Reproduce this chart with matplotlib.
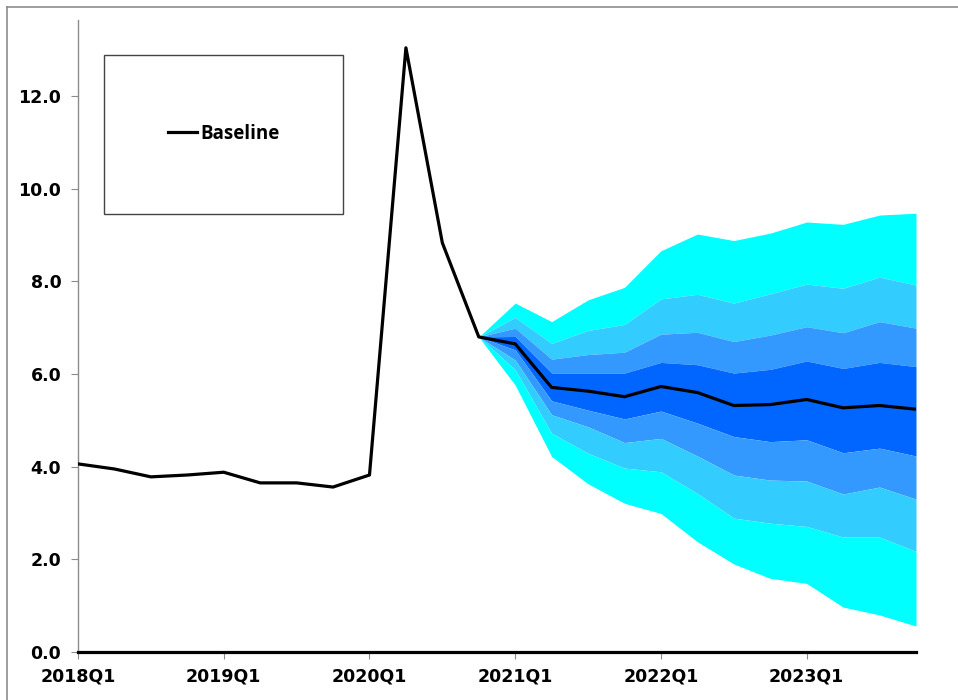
"""
Fan chart: baseline projection with uncertainty bands
"""
import numpy as np
import matplotlib.pyplot as plt
from matplotlib.patches import Rectangle
from matplotlib.lines import Line2D

# Quarters 2018Q1 .. 2023Q4
quarters = [f"{y}Q{q}" for y in range(2018, 2024) for q in range(1, 5)]
tick_labels = ["2018Q1", "2019Q1", "2020Q1", "2021Q1", "2022Q1", "2023Q1"]

# Baseline path
baseline = [4.06, 3.95, 3.78, 3.82, 3.88, 3.65, 3.65, 3.56, 3.82, 13.04, 8.83, 6.80,
            6.65, 5.71, 5.63, 5.51, 5.73, 5.60, 5.32, 5.34, 5.45, 5.27, 5.32, 5.24]

# Fan band edges, from 2020Q4 to 2023Q4 (top to bottom)
fan_start = "2020Q4"
cyan_top = [6.80, 7.53, 7.13, 7.60, 7.87, 8.66, 9.02, 8.88, 9.04, 9.28, 9.23, 9.43, 9.47]
light_top = [6.80, 7.22, 6.66, 6.94, 7.07, 7.62, 7.72, 7.53, 7.73, 7.94, 7.85, 8.09, 7.92]
mid_top = [6.80, 6.99, 6.32, 6.42, 6.47, 6.86, 6.90, 6.70, 6.84, 7.02, 6.89, 7.13, 6.99]
dark_top = [6.80, 6.81, 6.02, 6.02, 6.02, 6.25, 6.20, 6.02, 6.10, 6.28, 6.12, 6.25, 6.16]
dark_bot = [6.80, 6.52, 5.42, 5.22, 5.03, 5.20, 4.94, 4.65, 4.54, 4.58, 4.30, 4.40, 4.23]
mid_bot = [6.80, 6.30, 5.12, 4.86, 4.52, 4.61, 4.23, 3.82, 3.71, 3.69, 3.41, 3.56, 3.30]
light_bot = [6.80, 6.09, 4.72, 4.29, 3.97, 3.89, 3.42, 2.89, 2.78, 2.71, 2.48, 2.48, 2.17]
cyan_bot = [6.80, 5.76, 4.22, 3.63, 3.21, 2.99, 2.38, 1.90, 1.59, 1.48, 0.97, 0.80, 0.56]

x = np.arange(len(quarters))
i0 = quarters.index(fan_start)
xf = x[i0:]

fig = plt.figure(figsize=(9.58, 7.0), dpi=100)
ax = fig.add_axes([78 / 958, 48 / 700, 838 / 958, 632 / 700])

# bands
edges = [cyan_top, light_top, mid_top, dark_top, dark_bot, mid_bot, light_bot, cyan_bot]
colors = ["#00FFFF", "#33CCFF", "#3399FF", "#0066FF", "#3399FF", "#33CCFF", "#00FFFF"]
for k, c in enumerate(colors):
    ax.fill_between(xf, edges[k + 1], edges[k], color=c, lw=0)

ax.plot(x, baseline, color="black", lw=2.3, zorder=5)

ax.set_xlim(0, len(quarters) - 1)
ax.set_ylim(0, 13.64)
ax.set_yticks(np.arange(0, 13, 2))
ax.set_yticklabels([f"{v:.1f}" for v in np.arange(0, 13, 2)])
ax.set_xticks([quarters.index(t) for t in tick_labels])
ax.set_xticklabels(tick_labels)

for lab in ax.get_xticklabels() + ax.get_yticklabels():
    lab.set_fontweight("bold")
    lab.set_fontsize(12.5)
    lab.set_family("DejaVu Sans")

ax.spines["top"].set_visible(False)
ax.spines["right"].set_visible(False)
ax.spines["left"].set_color("#8c8c8c")
ax.spines["left"].set_linewidth(1.0)
ax.spines["bottom"].set_color("black")
ax.spines["bottom"].set_linewidth(2.3)
ax.spines["bottom"].set_zorder(6)
ax.tick_params(axis="y", length=5, color="#8c8c8c", pad=7)
ax.tick_params(axis="x", length=5, color="#8c8c8c", pad=6)

# legend box
fig.add_artist(Rectangle((104 / 958, 1 - 214 / 700), 239 / 958, 159 / 700,
                         transform=fig.transFigure, fill=False,
                         edgecolor="#444444", lw=1.0))
handle = Line2D([], [], color="black", lw=2.3)
leg = fig.legend([handle], ["Baseline"], loc="center",
                 bbox_to_anchor=(224 / 958, 1 - 134 / 700), frameon=False,
                 handlelength=1.5, handletextpad=0.2,
                 prop={"family": "Open Sans", "weight": "bold", "size": 13.5})

# outer chart border (top and left only visible)
fig.add_artist(Line2D([7 / 958, 1], [1 - 6.5 / 700, 1 - 6.5 / 700],
                      transform=fig.transFigure, color="#8c8c8c", lw=1.2))
fig.add_artist(Line2D([7 / 958, 7 / 958], [0, 1 - 6.5 / 700],
                      transform=fig.transFigure, color="#8c8c8c", lw=1.2))

fig.savefig("out.png", dpi=100)
